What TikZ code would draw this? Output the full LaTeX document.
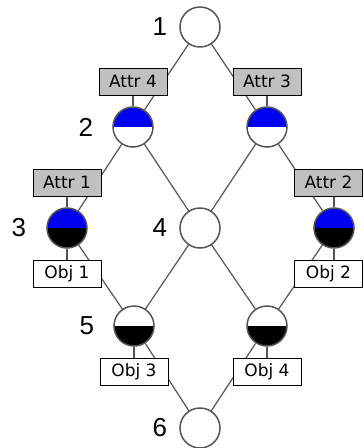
\documentclass[tikz,border=0pt]{standalone}
\usepackage{fontspec}
\setmainfont{Liberation Sans}
\newfontfamily\boxfont{DejaVu Sans}
\usetikzlibrary{positioning}
\usetikzlibrary{backgrounds}
\definecolor{linegray}{RGB}{85,85,85}
\definecolor{attrgray}{RGB}{192,192,192}
\definecolor{extblue}{RGB}{0,0,240}

\begin{document}
\begin{tikzpicture}[x=1pt,y=-1pt,
concept/.style={draw=linegray,line width=1.5pt,fill=white,circle,minimum size=40pt,
inner sep=0pt},
    halves/.style 2 args={path picture={\fill[#1] (path picture bounding box.north west)
rectangle (path picture bounding box.east);
\fill[#2] (path picture bounding box.west)
rectangle (path picture bounding box.south east);}},
    attr/.style={draw=black,fill=attrgray,rectangle,minimum width=68pt,
minimum height=27pt,inner sep=0pt,font=\boxfont\fontsize{17}{20}\selectfont,
node distance=11pt},
    obj/.style={attr,fill=white},
    num/.style={font=\fontsize{26}{30}\selectfont,inner sep=0pt},
    link/.style={draw=linegray,line width=1.2pt}]
\useasboundingbox (0,0) rectangle (364,448);

\node[concept] (top) at (200,27) {};
\node[concept,halves={extblue}{white}] (attrfour) at (133,127) {};
\node[concept,halves={extblue}{white}] (attrthree) at (267,127) {};
\node[concept,halves={extblue}{black}] (objone) at (67,228) {};
\node[concept] (mid) at (200,228) {};
\node[concept,halves={extblue}{black}] (objtwo) at (334,228) {};
\node[concept,halves={white}{black}] (objthree) at (134,326) {};
\node[concept,halves={white}{black}] (objfour) at (267,326) {};
\node[concept] (bottom) at (200,428) {};

\node[attr] (a4) [above=of attrfour] {Attr 4};
\node[attr] (a3) [above=of attrthree] {Attr 3};
\node[attr] (a1) [above=of objone] {Attr 1};
\node[attr] (a2) [above=of objtwo, xshift=-5.5pt] {Attr 2};
\node[obj] (o1) [below=of objone] {Obj 1};
\node[obj] (o2) [below=of objtwo, xshift=-5.5pt] {Obj 2};
\node[obj] (o3) [below=of objthree] {Obj 3};
\node[obj] (o4) [below=of objfour] {Obj 4};

\node[num] (n1) [left=12pt of top] {1};
\node[num] (n2) [left=19pt of attrfour] {2};
\node[num] (n3) [left=20pt of objone] {3};
\node[num] (n4) [left=12pt of mid] {4};
\node[num] (n5) [left=19pt of objthree] {5};
\node[num] (n6) [left=12pt of bottom] {6};

\begin{scope}[on background layer]
\draw[link] (top) -- (attrfour);
\draw[link] (top) -- (attrthree);
\draw[link] (attrfour) -- (objone);
\draw[link] (attrfour) -- (mid);
\draw[link] (attrthree) -- (mid);
\draw[link] (attrthree) -- (objtwo);
\draw[link] (objone) -- (objthree);
\draw[link] (mid) -- (objthree);
\draw[link] (mid) -- (objfour);
\draw[link] (objtwo) -- (objfour);
\draw[link] (objthree) -- (bottom);
\draw[link] (objfour) -- (bottom);
\draw[link] (a4) -- (attrfour);
\draw[link] (a3) -- (attrthree);
\draw[link] (a1) -- (objone);
\draw[link] (a2.south -| objtwo) -- (objtwo);
\draw[link] (o1) -- (objone);
\draw[link] (o2.north -| objtwo) -- (objtwo);
\draw[link] (o3) -- (objthree);
\draw[link] (o4) -- (objfour);
\end{scope}
\end{tikzpicture}
\end{document}
